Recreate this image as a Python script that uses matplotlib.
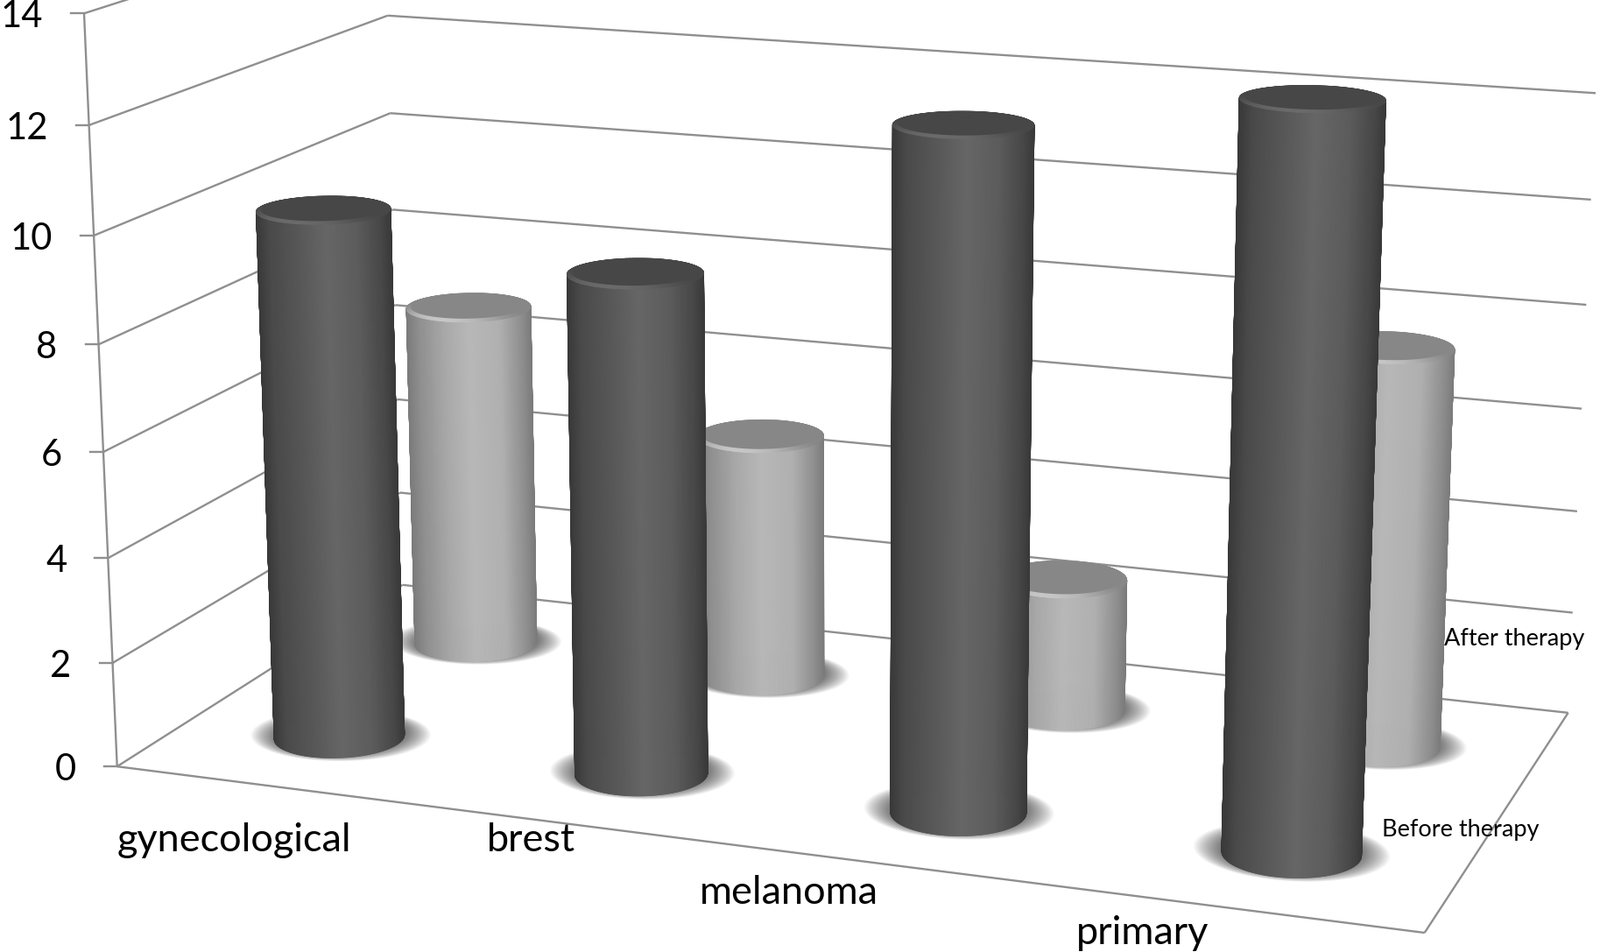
import numpy as np
import matplotlib
matplotlib.use("Agg")
import matplotlib.pyplot as plt
from matplotlib.collections import PolyCollection

plt.rcParams['font.family'] = ['Lato', 'DejaVu Sans']

categories = ['gynecological', 'brest', 'melanoma', 'primary']
before_therapy = [10.1, 9.4, 12.5, 13.35]
after_therapy = [6.9, 4.85, 2.6, 7.65]
axis_ticks = [0, 2, 4, 6, 8, 10, 12, 14]

# where the box corners sit in the picture (world x, depth, value -> pixel)
world = [(0, 0, 0), (0, 0, 2), (0, 0, 4), (0, 0, 6), (0, 0, 8), (0, 0, 10), (0, 0, 12), (0, 0, 14),
         (0, 2, 0), (0, 2, 2), (0, 2, 4), (0, 2, 6), (0, 2, 8), (0, 2, 10), (0, 2, 12),
         (4, 2, 0), (4, 2, 2), (4, 2, 4), (4, 2, 6), (4, 2, 8), (4, 2, 10), (4, 2, 12),
         (4, 0, 0)]
pixels = [(134, 875), (128.6, 757), (123, 637), (117.4, 516), (112.5, 393), (107, 269), (102, 143), (96, 16),
          (460, 668), (458, 563), (453, 457), (451, 347), (448, 239), (446, 129), (443, 18),
          (1790, 814), (1796, 699), (1801, 584), (1806, 467), (1811, 348), (1817, 228), (1822, 106),
          (1627, 1065)]


def fit_camera(w, p):
    rows, rhs = [], []
    for (x, y, z), (u, v) in zip(w, p):
        rows.append([x, y, z, 1, 0, 0, 0, 0, -u * x, -u * y, -u * z])
        rows.append([0, 0, 0, 0, x, y, z, 1, -v * x, -v * y, -v * z])
        rhs += [u, v]
    sol = np.linalg.lstsq(np.array(rows, float), np.array(rhs, float), rcond=None)[0]
    return np.append(sol, 1).reshape(3, 4)


cam = fit_camera(world, pixels)


def project(x, y, z):
    x, y, z = np.broadcast_arrays(np.asarray(x, float), np.asarray(y, float), np.asarray(z, float))
    pts = cam @ np.stack([x, y, z, np.ones_like(x)])
    return pts[0] / pts[2], pts[1] / pts[2]


fig = plt.figure(figsize=(18.27, 10.87), dpi=100)
ax = fig.add_axes([0, 0, 1, 1])
ax.set_xlim(0, 1827)
ax.set_ylim(1087, 0)
ax.axis('off')

GRID = '#8f8f8f'


def line3d(a, b, lw=1.7):
    u, v = project([a[0], b[0]], [a[1], b[1]], [a[2], b[2]])
    ax.plot(u, v, color=GRID, lw=lw, solid_capstyle='butt', zorder=1)


# walls and floor
for t in axis_ticks:
    line3d((0, 0, t), (0, 2, t))
    line3d((0, 2, t), (4, 2, t))
    u, v = project(0, 0, t)
    ax.plot([u - 15, u], [v, v], color=GRID, lw=1.7, zorder=1)
    ax.text(u - 47, v + 4, str(t), ha='right', va='center', fontsize=30, color='black', zorder=5)
line3d((0, 0, 0), (0, 0, 14))
line3d((0, 0, 0), (4, 0, 0))
line3d((4, 0, 0), (4, 2, 0))

DARK_X = [0, .1, .3, .52, .75, .92, 1]
DARK_V = [.22, .29, .34, .40, .36, .28, .22]
LIGHT_X = [0, .1, .3, .5, .75, .92, 1]
LIGHT_V = [.48, .56, .66, .72, .69, .56, .48]

RX = 0.198
RY = 0.2
N = 360
theta = np.linspace(0, 2 * np.pi, N + 1)


def cylinder(cx, cy, h, prof_x, prof_v, cap, rim, zbase):
    # shadow on the floor
    for k in np.linspace(1.42, 1.0, 24):
        su, sv = project(cx - .005 + RX * k * np.cos(theta), cy + 0.02 + RY * (1 + (k - 1) * .55) * np.sin(theta), 0 * theta)
        ax.fill(su, sv, color='black', alpha=0.028, lw=0, zorder=zbase)
    bu, bv = project(cx + RX * np.cos(theta), cy + RY * np.sin(theta), 0 * theta)
    tu, tv = project(cx + RX * np.cos(theta), cy + RY * np.sin(theta), h + 0 * theta)
    # side faces, back to front so the near half ends on top
    order = np.argsort(-np.sin(theta[:-1] + np.pi / N))
    polys, cols = [], []
    left, right = bu.min(), bu.max()
    for i in order:
        polys.append([(bu[i], bv[i]), (bu[i + 1], bv[i + 1]), (tu[i + 1], tv[i + 1]), (tu[i], tv[i])])
        s = np.clip((0.5 * (bu[i] + bu[i + 1]) - left) / (right - left), 0, 1)
        g = np.interp(s, prof_x, prof_v)
        cols.append((g, g, g))
    ax.add_collection(PolyCollection(polys, facecolors=cols, edgecolors=cols, linewidths=.6, zorder=zbase + .1))
    # top: bevel ring, brighter towards the viewer, then the flat cap
    mu, mv = tu[:-1].mean(), tv[:-1].mean()
    iu = mu + .93 * (tu - mu)
    iv = mv + .86 * (tv - mv) - 1.5
    polys, cols = [], []
    for i in range(N):
        polys.append([(tu[i], tv[i]), (tu[i + 1], tv[i + 1]), (iu[i + 1], iv[i + 1]), (iu[i], iv[i])])
        w = max(0, -np.sin(theta[i])) ** 2
        g = cap + (rim - cap) * w
        cols.append((g, g, g))
    ax.add_collection(PolyCollection(polys, facecolors=cols, edgecolors=cols, linewidths=.6, zorder=zbase + .2))
    ax.fill(iu, iv, color=(cap, cap, cap), lw=0, zorder=zbase + .3)


CAT_X = [0.505, 1.505, 2.505, 3.505]
DEPTH_FRONT = 0.48
DEPTH_BACK = 1.49
for i in range(4):
    cylinder(CAT_X[i], DEPTH_BACK, after_therapy[i], LIGHT_X, LIGHT_V, .53, .78, 2)
for i in range(4):
    cylinder(CAT_X[i], DEPTH_FRONT, before_therapy[i], DARK_X, DARK_V, .28, .42, 3)

# category labels
label_x = [267, 606, 901, 1305]
label_y = [960, 960, 1020, 1066]
for name, u, v in zip(categories, label_x, label_y):
    ax.text(u, v, name, ha='center', va='center', fontsize=32.5, color='black', zorder=5)

ax.text(1729, 729, 'After therapy', ha='center', va='center', fontsize=19.5, color='black', zorder=5)
ax.text(1668, 948, 'Before therapy', ha='center', va='center', fontsize=19.5, color='black', zorder=5)

fig.savefig('out.png', dpi=100)
